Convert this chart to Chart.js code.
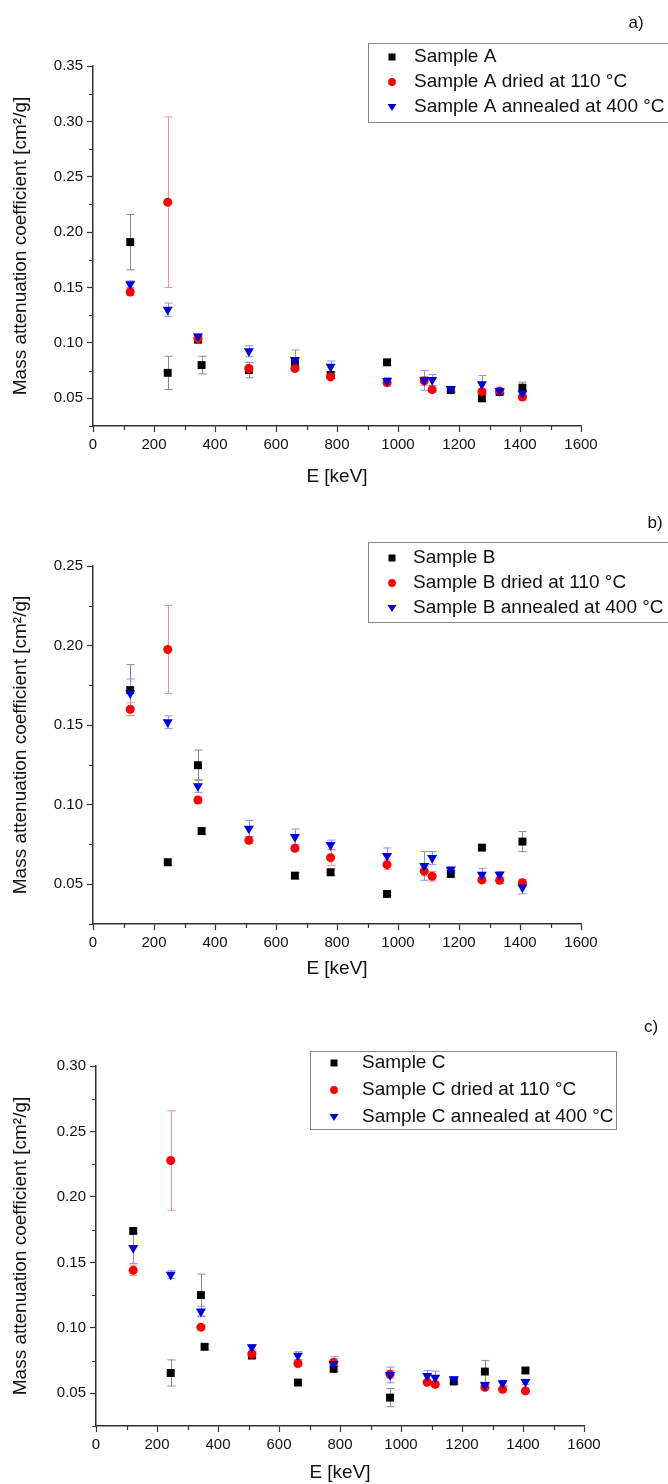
<!DOCTYPE html>
<html>
<head>
<meta charset="utf-8">
<script src="https://cdn.jsdelivr.net/npm/chart.js@4.4.1/dist/chart.umd.min.js"></script>
<style>
  body { margin: 0; background: #fff; width: 668px; height: 1484px; overflow: hidden; }
  .panel { position: absolute; left: 0; width: 668px; }
</style>
</head>
<body>
<div class="panel" style="top:0;height:490px"><canvas id="chartA"></canvas></div>
<div class="panel" style="top:490px;height:490px"><canvas id="chartB"></canvas></div>
<div class="panel" style="top:980px;height:504px"><canvas id="chartC"></canvas></div>
<script>
// Gamma line energies [keV]
const energies = [122, 245, 344, 356, 511, 662, 779, 964, 1086, 1112, 1173, 1275, 1333, 1408];

// Sample A
const aRaw = [0.191, 0.073, 0.103, 0.080, 0.0755, 0.0815, 0.071, 0.0825, null, null, 0.0575, 0.050, 0.0557, 0.0596];
const aRawErr = [0.025, 0.015, 0.003, 0.008, 0.007, 0.004, 0.003, 0.002, 0, 0, 0.002, 0.003, 0.002, 0.005];
const aDried = [0.146, 0.227, 0.104, null, 0.0768, 0.0768, 0.0693, 0.0642, 0.0657, 0.0578, null, 0.056, 0.0566, 0.0512];
const aDriedErr = [0.003, 0.077, 0.002, 0, 0.003, 0.002, 0.002, 0.003, 0.004, 0.002, 0, 0.002, 0.002, 0.002];
const aAnnealed = [0.153, 0.130, 0.106, null, 0.0925, 0.0847, 0.0786, 0.0657, 0.0663, 0.0666, 0.0584, 0.0627, 0.0566, 0.0545];
const aAnnealedErr = [0.003, 0.006, 0.002, 0, 0.005, 0.009, 0.005, 0.003, 0.009, 0.005, 0.002, 0.008, 0.002, 0.002];

// Sample B
const bRaw = [0.172, 0.0638, 0.1248, 0.0834, null, 0.0554, 0.0575, 0.0439, null, null, 0.0565, 0.073, null, 0.0768];
const bRawErr = [0.016, 0.002, 0.0095, 0.002, 0, 0.002, 0.002, 0.001, 0, 0, 0.002, 0.001, 0, 0.0063];
const bDried = [0.160, 0.1975, 0.1029, null, 0.0776, 0.0726, 0.0667, 0.0623, 0.0582, 0.055, null, 0.0527, 0.0525, 0.051];
const bDriedErr = [0.004, 0.0277, 0.002, 0, 0.002, 0.002, 0.005, 0.003, 0.003, 0.003, 0, 0.002, 0.002, 0.002];
const bAnnealed = [0.170, 0.1518, 0.1117, null, 0.085, 0.0797, 0.0747, 0.0678, 0.0615, 0.0665, 0.0592, 0.056, 0.056, 0.048];
const bAnnealedErr = [0.009, 0.004, 0.004, 0, 0.005, 0.005, 0.003, 0.005, 0.009, 0.004, 0.002, 0.004, 0.002, 0.004];

// Sample C
const cRaw = [0.174, 0.0655, 0.125, 0.0855, 0.0788, 0.0582, 0.0686, 0.0467, null, null, 0.059, 0.0666, null, 0.0674];
const cRawErr = [0.002, 0.010, 0.016, 0.002, 0.002, 0.002, 0.002, 0.007, 0, 0, 0.002, 0.0085, 0, 0.002];
const cDried = [0.1439, 0.2278, 0.1005, null, 0.080, 0.0727, 0.0735, 0.0645, 0.0584, 0.0569, null, 0.0546, 0.053, 0.0518];
const cDriedErr = [0.004, 0.038, 0.002, 0, 0.002, 0.002, 0.003, 0.003, 0.002, 0.002, 0, 0.002, 0.002, 0.002];
const cAnnealed = [0.161, 0.1406, 0.1125, null, 0.0852, 0.0788, 0.0724, 0.064, 0.0633, 0.062, 0.0607, 0.0564, 0.0577, 0.0587];
const cAnnealedErr = [0.0118, 0.003, 0.004, 0, 0.002, 0.003, 0.0055, 0.006, 0.004, 0.005, 0.002, 0.002, 0.002, 0.002];

const FONT = "'Liberation Sans', Arial, sans-serif";

// join energies with values, skip the hidden points
function toPoints(values, errors) {
    const pts = [];
    for (let i = 0; i < energies.length; i++) {
        if (values[i] !== null) pts.push({ x: energies[i], y: values[i], err: errors[i] });
    }
    return pts;
}

function drawMarker(ctx, style, x, y, s) {
    ctx.beginPath();
    if (style === 'rect') {
        ctx.rect(x - s, y - s, 2 * s, 2 * s);
    } else if (style === 'circle') {
        ctx.arc(x, y, s, 0, Math.PI * 2);
    } else {
        ctx.moveTo(x - s * 1.15, y - s * 0.75);
        ctx.lineTo(x + s * 1.15, y - s * 0.75);
        ctx.lineTo(x, y + s * 1.05);
        ctx.closePath();
    }
    ctx.fill();
}

// error bars under the markers
const errorBarPlugin = {
    id: 'errorBars',
    beforeDatasetsDraw(chart) {
        const { ctx } = chart;
        const xs = chart.scales.x;
        const ys = chart.scales.y;
        chart.data.datasets.forEach((ds) => {
            ctx.save();
            ctx.strokeStyle = ds.errorColor;
            ctx.lineWidth = 1;
            ds.data.forEach((p) => {
                if (!p.err) return;
                const px = Math.round(xs.getPixelForValue(p.x)) + 0.5;
                const top = ys.getPixelForValue(p.y + p.err);
                const bot = ys.getPixelForValue(p.y - p.err);
                ctx.beginPath();
                ctx.moveTo(px, top);
                ctx.lineTo(px, bot);
                ctx.moveTo(px - 4, top);
                ctx.lineTo(px + 4, top);
                ctx.moveTo(px - 4, bot);
                ctx.lineTo(px + 4, bot);
                ctx.stroke();
            });
            ctx.restore();
        });
    },
};

// short minor ticks (major ones come from the grid)
const minorTickPlugin = {
    id: 'minorTicks',
    afterDraw(chart) {
        const { ctx, chartArea } = chart;
        ctx.save();
        ctx.strokeStyle = '#333';
        ctx.lineWidth = 1.2;
        ctx.beginPath();
        chart.scales.x.ticks.forEach((t) => {
            if (t.value % 200 !== 0) {
                const px = Math.round(chart.scales.x.getPixelForValue(t.value)) + 0.5;
                ctx.moveTo(px, chartArea.bottom);
                ctx.lineTo(px, chartArea.bottom + 4);
            }
        });
        chart.scales.y.ticks.forEach((t) => {
            if (Math.round(t.value * 1000) % 50 !== 0) {
                const py = Math.round(chart.scales.y.getPixelForValue(t.value)) + 0.5;
                ctx.moveTo(chartArea.left, py);
                ctx.lineTo(chartArea.left - 4, py);
            }
        });
        ctx.stroke();
        ctx.restore();
    },
};

// boxed legend + panel letter
const boxLegendPlugin = {
    id: 'boxLegend',
    afterDraw(chart, args, opts) {
        const { ctx } = chart;
        ctx.save();
        ctx.strokeStyle = '#888';
        ctx.lineWidth = 1;
        ctx.strokeRect(opts.x + 0.5, opts.y + 0.5, opts.w, opts.h);
        ctx.font = '19px ' + FONT;
        ctx.textBaseline = 'middle';
        chart.data.datasets.forEach((ds, i) => {
            const cy = opts.rows[i];
            ctx.fillStyle = ds.backgroundColor;
            drawMarker(ctx, ds.markerShape, opts.markerX, cy, ds.legendSize);
            ctx.fillStyle = '#111';
            ctx.textAlign = 'left';
            ctx.fillText(ds.label, opts.textX, cy);
        });
        ctx.font = '17px ' + FONT;
        ctx.textAlign = 'center';
        ctx.fillText(opts.letter, opts.letterX, opts.letterY);
        ctx.restore();
    },
};

function makeChart(id, sample, series, layout) {
    const ctx = document.getElementById(id).getContext('2d');
    return new Chart(ctx, {
        type: 'scatter',
        data: {
            datasets: [{
                label: 'Sample ' + sample,
                data: toPoints(series[0], series[1]),
                backgroundColor: '#000000',
                errorColor: '#8a8a8a',
                pointStyle: 'rect',
                markerShape: 'rect',
                legendSize: 3.5,
                pointRadius: 5.6,
                order: 3,
            }, {
                label: 'Sample ' + sample + ' dried at 110 °C',
                data: toPoints(series[2], series[3]),
                backgroundColor: '#ff0000',
                errorColor: '#ff8c8c',
                pointStyle: 'circle',
                markerShape: 'circle',
                legendSize: 3.9,
                pointRadius: 4.5,
                order: 2,
            }, {
                label: 'Sample ' + sample + ' annealed at 400 °C',
                data: toPoints(series[4], series[5]),
                backgroundColor: '#0000d0',
                errorColor: '#8c8cff',
                pointStyle: 'triangle',
                markerShape: 'triangle',
                legendSize: 3.9,
                pointRotation: 180,
                pointRadius: 5.8,
                order: 1,
            }],
        },
        options: {
            responsive: true,
            maintainAspectRatio: false,
            animation: false,
            events: [],
            elements: { point: { borderWidth: 0, hoverRadius: 0 } },
            layout: { padding: { top: layout.top, right: layout.right, left: 0, bottom: 0 } },
            plugins: {
                legend: { display: false },
                tooltip: { enabled: false },
                boxLegend: layout.legend,
            },
            scales: {
                x: {
                    type: 'linear',
                    min: 0,
                    max: 1600,
                    afterFit(scale) { scale.height = layout.xHeight; },
                    border: { color: '#333', width: 1.5 },
                    grid: {
                        drawOnChartArea: false,
                        tickLength: 6,
                        tickWidth: 1.2,
                        tickColor: (c) => (c.tick && c.tick.value % 200 === 0 ? '#333' : 'rgba(0,0,0,0)'),
                    },
                    ticks: {
                        stepSize: 100,
                        autoSkip: false,
                        maxRotation: 0,
                        padding: 4,
                        color: '#111',
                        font: { family: FONT, size: 15 },
                        callback: (v) => (v % 200 === 0 ? String(v) : ''),
                    },
                    title: {
                        display: true,
                        text: 'E [keV]',
                        color: '#111',
                        font: { family: FONT, size: 19 },
                        padding: { top: 0, bottom: layout.xTitlePad },
                    },
                },
                y: {
                    type: 'linear',
                    min: 0.025,
                    max: layout.yMax,
                    afterFit(scale) { scale.width = layout.yWidth; },
                    border: { color: '#333', width: 1.5 },
                    grid: {
                        drawOnChartArea: false,
                        tickLength: 6,
                        tickWidth: 1.2,
                        tickColor: (c) => (c.tick && Math.round(c.tick.value * 1000) % 50 === 0 ? '#333' : 'rgba(0,0,0,0)'),
                    },
                    ticks: {
                        stepSize: 0.025,
                        autoSkip: false,
                        padding: 4,
                        color: '#111',
                        font: { family: FONT, size: 15 },
                        callback: (v) => (Math.round(v * 1000) % 50 === 0 ? v.toFixed(2) : ''),
                    },
                    title: {
                        display: true,
                        text: 'Mass attenuation coefficient [cm²/g]',
                        color: '#111',
                        font: { family: FONT, size: 19 },
                        padding: { top: 9, bottom: 0 },
                    },
                },
            },
        },
        plugins: [errorBarPlugin, minorTickPlugin, boxLegendPlugin],
    });
}

makeChart('chartA', 'A', [aRaw, aRawErr, aDried, aDriedErr, aAnnealed, aAnnealedErr], {
    top: 66, right: 87, yWidth: 93, xHeight: 64, xTitlePad: 2, yMax: 0.35,
    legend: { x: 368, y: 43, w: 320, h: 79, rows: [57, 82, 107], markerX: 392, textX: 414, letter: 'a)', letterX: 636, letterY: 23 },
});

makeChart('chartB', 'B', [bRaw, bRawErr, bDried, bDriedErr, bAnnealed, bAnnealedErr], {
    top: 76, right: 87, yWidth: 93, xHeight: 56, xTitlePad: 0, yMax: 0.25,
    legend: { x: 368, y: 52, w: 320, h: 80, rows: [68, 93, 118], markerX: 392, textX: 413, letter: 'b)', letterX: 655, letterY: 33 },
});

makeChart('chartC', 'C', [cRaw, cRawErr, cDried, cDriedErr, cAnnealed, cAnnealedErr], {
    top: 86, right: 84, yWidth: 96, xHeight: 58, xTitlePad: 0, yMax: 0.30,
    legend: { x: 310, y: 71, w: 306, h: 78, rows: [83, 110, 137], markerX: 334, textX: 362, letter: 'c)', letterX: 651, letterY: 47 },
});
</script>
</body>
</html>
